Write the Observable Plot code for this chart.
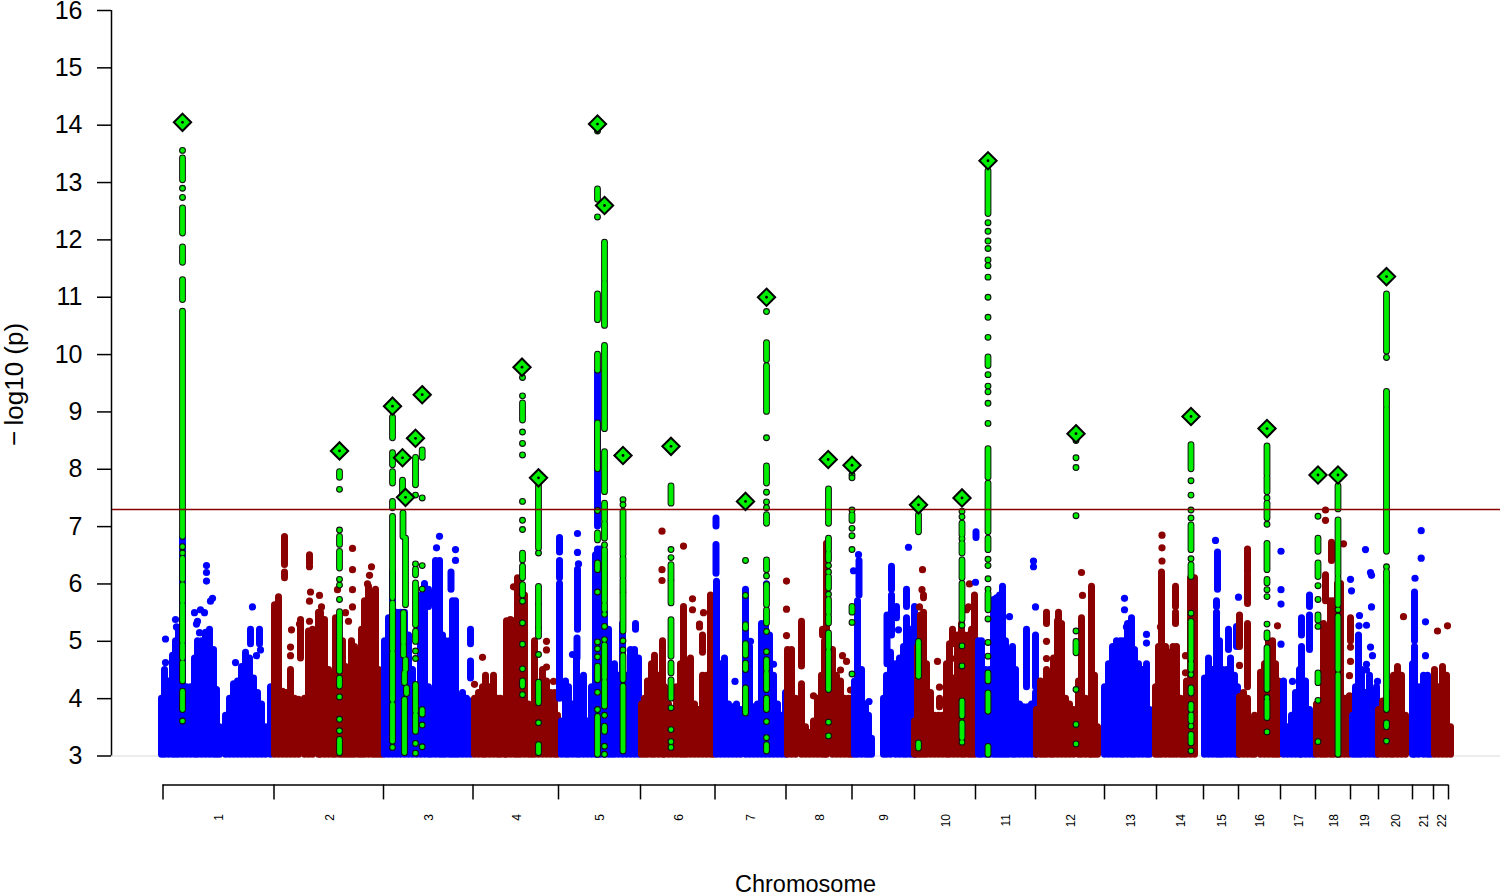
<!DOCTYPE html>
<html><head><meta charset="utf-8">
<style>html,body{margin:0;padding:0;background:#fff}svg{display:block}</style>
<script src="https://cdn.jsdelivr.net/npm/d3@7"></script>
<script src="https://cdn.jsdelivr.net/npm/@observablehq/plot@0.6"></script>
</head><body><div id="chart"></div>
<script>
const yTicks=[3,4,5,6,7,8,9,10,11,12,13,14,15,16];
const chrLabels=["1","2","3","4","5","6","7","8","9","10","11","12","13","14","15","16","17","18","19","20","21","22"];
const chrBounds=[162.5,273.5,383,472.5,558,640,714.5,785.5,851.5,914,975,1035,1104,1156,1203,1238,1280,1315,1350,1378,1412,1433,1448];
const threshold=7.3;
const blue="#0000ff",dark="#8b0000",green="#00ee00";

// columns: [position, top, bottom (default 3)]; dots: [position, value]
const chr1Cols=[[161,4.0],[164,4.5],[168,4.3],[172,4.75],[175,5.0],[178,5.2],[182,6.8],[186,4.2],[190,4.2],[194,4.7],[197,5.0],[201,5.0],[205,5.15],[209,5.2],[213,4.85],[216,4.15],[219,3.5],[225,3.7],[229,4.0],[233,4.25],[237,4.3],[241,4.55],[245,4.8],[249,4.7],[253,4.35],[257,4.1],[261,3.9],[265,3.5],[270,4.2],[250,5.2,4.95],[259,5.2,4.95]];
const chr1Dots=[[165,5.04],[165,4.63],[175,5.38],[176,5.25],[206,6.32],[206,6.2],[206,6.05],[210,5.7],[212,5.75],[194,5.5],[200,5.55],[204,5.5],[196,5.3],[199,5.15],[197,5.35],[235,4.63],[252,5.6],[260,4.85],[256,4.75],[248,4.7]];
const chr2Cols=[[274,5.63],[278,5.77],[282,4.12],[286,4.1],[290,4.15],[290,4.5,4.2],[294,4.0],[298,3.98],[300,5.37,4.7],[304,4.0],[308,5.17],[312,5.2],[318,5.5],[320,5.5],[324,5.37],[328,4.5],[332,3.7],[335,5.4],[339,4.4],[342,5.0],[345,4.55],[348,4.4],[351,5.0],[354,4.9],[358,4.6],[361,5.2],[364,5.7],[368,5.95],[372,5.1],[375,5.9],[378,4.5],[381,4.4],[284,6.82,6.33],[284,6.2,6.1],[309,6.5,6.35]];
const chr2Dots=[[291,5.2],[290,4.9],[290,4.75],[299,5.3],[300,5.15],[309,6.3],[310,5.86],[309,5.7],[309,5.35],[319,5.8],[321,5.6],[337,5.9],[352,6.62],[352,6.25],[352,5.9],[352,5.6],[348,5.35],[345,5.5],[371,6.3],[369,6.15],[367,6.0]];
const chr3Cols=[[384,5.0],[388,5.4],[392,6.2],[396,5.5],[400,5.5],[404,5.5],[408,5.1],[412,4.5],[416,4.0],[420,5.8],[424,6.0],[428,4.2],[428,5.9,5.6],[431,4.1],[435,6.4],[439,6.4],[442,5.1],[445,5.0],[449,5.0],[452,5.7],[455,5.7],[450.5,6.2,5.9],[458,3.95],[462,4.1],[466,4.0],[470,3.95],[470,5.2,4.95],[470,4.65,4.35]];
const chr3Dots=[[439,6.83],[436,6.63],[455,6.6],[455,6.41]];
const chr4Cols=[[474,4.0],[478,4.1],[482,4.2],[485,4.4],[489,4.2],[493,4.4],[497,4.0],[500,4.0],[504,3.9],[506,5.35],[510,5.37],[514,5.35],[517,6.1],[520,6.0],[524,5.8],[528,3.9],[531,3.75],[534,5.0],[538,4.15],[542,4.5],[546,4.3],[550,4.1],[554,4.1],[557,3.7]];
const chr4Dots=[[474,4.25],[482,4.72],[513,5.95],[546,5.0],[546,4.85],[546,4.55],[553,4.3]];
const chr5Cols=[[559,6.8,6.55],[559,6.4,6.1],[559,6.0,4.0],[561,3.6],[565,4.3],[568,4.2],[572,3.9],[577,6.25,5.2],[576.5,5.05,4.7],[576,4.7],[579,4.3],[583,4.4],[587,3.6],[591,4.2],[595,6.5],[597,6.6],[597,9.7,7],[600,6.6],[604,5.5],[608,5.2],[611,4.4],[614,4.6],[618,4.4],[622,5.3],[626,4.4],[630,4.85],[634,4.85],[635,5.3,5.2],[638,4.7]];
const chr5Dots=[[577,6.88],[577,6.55],[578,6.35],[572,4.77]];
const chr6Cols=[[641,3.9],[644,4.0],[647,4.3],[651,4.6],[654,4.75],[658,4.4],[662,5.0],[664,4.2],[668,3.9],[672,3.8],[676,4.2],[680,4.6],[683,5.25],[683,5.6,4.95],[686,3.9],[690,4.7],[694,3.9],[698,3.8],[702,4.4],[702,5.1,4.8],[706,4.4],[710,5.8],[713,4.5]];
const chr6Dots=[[661.5,6.92],[661.5,6.25],[661.5,6.06],[683,6.66],[692,5.74],[692,5.55],[699,5.3],[699,5.25],[703,5.5]];
const chr7Cols=[[715.5,7.14,7.0],[715.5,6.68,6.18],[716,6.04],[720,4.6],[724,4.7],[728,3.9],[732,3.85],[736,3.9],[740,3.8],[745,5.9],[749,4.9],[753,3.85],[757,3.9],[761,5.3],[765,5.3],[769,5.1],[773,4.4],[777,3.9],[781,3.7],[785,4.1]];
const chr7Dots=[[734.5,4.3],[766,6.0],[750,5.0],[773,4.6]];
const chr8Cols=[[787,4.85],[791,4.85],[795,4.0],[801,4.25],[801,5.34,4.56],[805,3.5],[809,3.4],[813,3.6],[817,4.0],[821,4.4],[822,5.2,5.1],[824,5.0],[826,6.7],[832,4.85],[836,4.4],[840,4.3],[844,4.0],[848,4.0],[851,4.0]];
const chr8Dots=[[786,6.05],[786,5.56],[786,5.1],[813,4.05],[842,4.75],[846,4.65],[840,4.5],[850,4.15],[840,4.15]];
const chr9Cols=[[858.5,6.4,5.8],[857,5.7,4.2],[854,4.3],[857,5.0],[861,4.5],[865,3.9],[868,3.7],[871,3.3],[883,4.0],[886,4.4],[886.5,5.45,4.6],[890,4.8],[891,6.3,5.9],[891,5.8,5.1],[895,4.6],[896,5.6,5.4],[899,4.7],[903,4.9],[906,5.9,5.6],[906,5.4],[910,5.2],[914,5.6]];
const chr9Dots=[[858,6.51],[853,6.23],[868.5,3.95],[898,5.2],[908,6.64]];
const chr10Cols=[[914,3.6],[917,4.9],[920,5.45],[923,5.5],[923,5.8,5.75],[926,4.6],[930,4.1],[934,3.7],[939,4.0,3.85],[938,3.7],[942,3.7],[946,4.6],[949,4.95],[953,4.35],[952,5.2,4.95],[957,5.1],[961,5.3],[964,5.1],[968,5.1],[971,5.2],[974,5.8]];
const chr10Dots=[[922,6.25],[921.5,5.9],[919,5.6],[937,4.65],[939,4.2],[969,6.0],[968,5.6],[966,5.55],[951,4.7]];
const chr11Cols=[[975.5,6.9,6.8],[978,5.0],[981,5.0],[985,4.5],[989,4.5],[993,5.72],[996,5.75],[999,5.8],[1002,5.95],[1005,5.0],[1008,4.8],[1012,4.9],[1015,4.5],[1019,3.9],[1023,3.85],[1026,5.2,4.2],[1027,3.85],[1031,3.9],[1035,5.1,4.2],[1035,4.1]];
const chr11Dots=[[975,6.03],[1033,6.4],[1033,6.3],[1035,5.6],[1009,5.43]];
const chr12Cols=[[1036,3.8],[1040,4.3],[1043,4.0],[1046,4.5],[1046,5.5,5.3],[1050,3.9],[1053,4.7],[1057,5.35],[1058,5.5,5.35],[1061,5.3],[1065,4.0],[1069,3.9],[1073,3.8],[1078,4.3],[1081,5.4],[1085,4.0],[1089,3.9],[1091,5.95],[1094,4.4],[1097,3.5]];
const chr12Dots=[[1046,5.0],[1046,4.7],[1081,6.2],[1082,5.8],[1080,5.0]];
const chr13Cols=[[1104,4.2],[1108,4.6],[1112,4.9],[1116,5.0],[1120,5.0],[1123,5.0],[1127,5.3],[1131,5.4],[1134,4.85],[1138,4.6],[1142,4.5],[1146,4.6],[1149,3.8]];
const chr13Dots=[[1124,5.75],[1124,5.55],[1126,5.25],[1146,5.12],[1146,4.97]];
const chr14Cols=[[1155,4.2],[1158,4.9],[1161,6.2],[1165,4.9],[1169,4.8],[1172.5,4.9],[1175,5.95,5.6],[1175,5.5,5.3],[1176,4.9],[1180,4.0],[1183,3.9],[1186,4.3],[1190,6.1],[1194,6.1],[1193,5.9,5.4]];
const chr14Dots=[[1161.5,6.85],[1161.5,6.63],[1161.5,6.4],[1185,4.75],[1185,4.45],[1160,5.25]];
const chr15Cols=[[1204,4.35],[1208,4.7],[1212,4.5],[1216,5.5],[1219,5.0],[1217,6.55,5.9],[1216,5.7,5.6],[1222,4.5],[1226,4.5],[1228,5.2,4.85],[1230,4.7],[1234,4.4],[1236,5.25,4.9],[1237,4.2]];
const chr15Dots=[[1215,6.76],[1238,5.77]];
const chr16Cols=[[1239,4.03],[1239,5.45,4.9],[1243,4.1],[1247,4.0],[1247,6.6,6.2],[1247,6.15,5.65],[1247,5.3,4.2],[1251,3.5],[1254,3.7],[1260,4.45],[1264,4.6],[1268,5.0],[1272,5.0],[1275,4.6],[1278,4.3]];
const chr16Dots=[[1239,4.58],[1277,5.27]];
const chr17Cols=[[1283,4.3],[1287,3.5],[1291,3.7],[1295,4.1],[1299,4.5],[1301,5.4,5.1],[1301,4.9],[1305,4.3],[1309,5.8,5.6],[1309,5.45,4.85],[1309,3.8],[1313,3.4]];
const chr17Dots=[[1280.5,6.57],[1280.5,5.9],[1280.5,5.65],[1280.5,4.95],[1292,4.3]];
const chr18Cols=[[1316,3.9],[1320,3.9],[1323,5.3],[1325,6.15,5.7],[1326,5.1],[1330,5.7],[1331,6.72,6.4],[1333,5.7],[1337,6.0],[1340,6.0],[1344,4.0],[1348,4.0],[1350,5.4,5.0]];
const chr18Dots=[[1325,7.29],[1325,7.11],[1343,6.7],[1350,4.9],[1350,4.65],[1349,4.4],[1349,4.05]];
const chr19Cols=[[1352,3.7],[1355,4.2],[1358,5.1],[1361,4.5],[1365,4.1],[1369,4.4],[1373,4.1],[1376,4.2]];
const chr19Dots=[[1365,6.6],[1370,6.2],[1371,6.15],[1371,5.6],[1351,5.88],[1350,6.08],[1366,5.28],[1358.5,5.27],[1370,4.9],[1372,4.75],[1366,4.6],[1366,4.5],[1377,4.3],[1359,5.45]];
const chr20Cols=[[1378,3.8],[1382,3.95],[1386,3.9],[1390,4.1],[1393,4.4],[1397,4.55],[1401,4.4],[1405,3.7]];
const chr20Dots=[[1403,5.43]];
const chr21Cols=[[1412,4.6],[1414,5.85,5.0],[1414,4.9],[1418,4.2],[1423,4.4],[1427,4.4],[1430,4.3]];
const chr21Dots=[[1420.7,6.93],[1420.7,6.45],[1414.5,6.1],[1425,5.34],[1425,4.75]];
const chr22Cols=[[1434,4.5],[1438,4.2],[1442,4.55],[1446,4.4],[1450,3.5]];
const chr22Dots=[[1437,5.18],[1447,5.27]];

const chrCols=[chr1Cols,chr2Cols,chr3Cols,chr4Cols,chr5Cols,chr6Cols,chr7Cols,chr8Cols,chr9Cols,chr10Cols,chr11Cols,chr12Cols,chr13Cols,chr14Cols,chr15Cols,chr16Cols,chr17Cols,chr18Cols,chr19Cols,chr20Cols,chr21Cols,chr22Cols];
const chrDots=[chr1Dots,chr2Dots,chr3Dots,chr4Dots,chr5Dots,chr6Dots,chr7Dots,chr8Dots,chr9Dots,chr10Dots,chr11Dots,chr12Dots,chr13Dots,chr14Dots,chr15Dots,chr16Dots,chr17Dots,chr18Dots,chr19Dots,chr20Dots,chr21Dots,chr22Dots];

// highlighted loci: stretches of touching green points [position, top, bottom]
const greenSegs=[
[182,13.42,13.04],[182,12.55,12.11],[182,11.87,11.6],[182,11.3,10.95],[182,10.75,6.82],[182,6.44,6.07],[182,5.98,5.69],[182,5.63,4.99],[182,4.93,4.7],[182,4.62,4.3],[182,4.12,3.8],
[339,7.95,7.85],[339,6.82,6.68],[339,6.56,6.27],[339,5.51,5.34],[339,5.31,4.47],[339,4.35,4.21],[339,3.28,3.05],
[392,8.9,8.54],[392,8.28,8.07],[392,7.95,7.75],[392,7.43,7.32],[392,7.17,5.75],[392,5.66,4.85],[392,4.79,3.97],[392,3.89,3.45],[392,3.42,3.25],
[402,7.8,7.55],[402.5,7.23,6.82],[405,6.79,5.63],[403,5.49,4.96],[403,4.91,4.75],[405,4.67,4.5],[404,4.44,4.27],[406,4.18,4.08],[404,3.98,3.05],
[415,8.2,7.72],[415,6.25,6.15],[415,6.01,5.28],[415,5.17,4.99],[415,4.24,3.77],[415,3.71,3.42],[421.7,8.33,8.2],[421.7,3.8,3.72],
[522,9.15,8.85],[522,6.53,6.41],[522,6.3,6.1],[522,5.98,5.8],[522,4.3,4.21],
[538,7.7,6.62],[538,5.95,5.66],[538,5.63,5.25],[538,5.22,5.08],[538,4.28,3.92],[538,3.19,3.05],
[597,11.05,10.6],[597,10,9.72],[597,8.8,8.0],[597,12.88,12.7],[597,6.88,6.76],[597,6.36,6.24],[597,4.56,4.32],[597,3.68,3.02],
[604,11.95,11.3],[604,11.25,10.5],[604,10.15,8.7],[604,8.3,7.6],[604,7.4,7.11],[604,7.05,6.79],[604,6.59,5.69],[604,5.63,5.54],[604,4.93,4.35],[604,4.29,3.86],[604,3.51,3.42],
[622.5,7.26,6.5],[622.5,6.44,6.12],[622.5,6.07,5.86],[622.5,5.83,5.17],[622.5,4.74,4.32],[622.5,4.21,3.08],
[670.5,7.7,7.4],[670.5,6.33,6.07],[670.5,6.04,5.66],[670.5,5.37,4.73],[670.5,4.61,4.44],[670.5,4.32,4.0],
[745,5.28,5.22],[745,4.95,4.75],[745,4.61,4.5],[745,4.18,3.74],
[766,10.2,9.9],[766,9.8,9.0],[766,8.05,7.75],[766,7.2,7.05],[766,6.41,6.24],[766,5.98,5.63],[766,5.54,5.31],[766,4.67,4.5],[766,4.44,4.15],[766,4.0,3.8],[766,3.19,3.08],
[828,7.65,7.05],[828,6.79,6.59],[828,6.53,6.41],[828,6.12,5.92],[828,5.72,5.49],[828,5.43,5.31],[828,5.14,4.88],[828,4.82,4.15],
[851.5,7.2,7.1],[851.5,5.6,5.5],
[918,7.2,6.9],[918,4.99,4.38],[918,3.22,3.13],
[961.5,7.05,6.85],[961.5,6.7,6.53],[961.5,6.41,6.1],[961.5,6.0,5.37],[961.5,3.95,3.69],[961.5,3.57,3.31],
[987.5,13.2,12.45],[987.5,9.95,9.8],[987.5,8.35,7.85],[987.5,7.75,6.9],[987.5,6.79,6.59],[987.5,5.83,5.54],[987.5,4.44,4.3],[987.5,4.09,3.77],[987.5,3.16,3.02],
[1075.5,4.99,4.79],
[1190.5,8.42,8.0],[1190.5,7.02,6.59],[1190.5,6.33,6.12],[1190.5,5.34,4.67],[1190.5,4.61,4.5],[1190.5,4.18,4.09],[1190.5,3.89,3.8],[1190.5,3.71,3.6],[1190.5,3.37,3.22],
[1266.5,8.4,7.9],[1266.5,7.85,7.6],[1266.5,7.4,7.14],[1266.5,6.7,6.24],[1266.5,6.07,6.01],[1266.5,5.14,5.05],[1266.5,4.88,4.15],[1266.5,3.95,3.66],
[1317.5,6.79,6.56],[1317.5,6.36,6.12],[1317.5,5.45,5.36],[1317.5,4.44,4.27],
[1337.5,7.7,7.3],[1337.5,7.11,6.15],[1337.5,6.1,5.63],[1337.5,5.43,4.5],[1337.5,4.41,3.02],
[1386,11.05,10.05],[1386,9.35,9.1],[1386,9.05,6.56],[1386,6.21,6.04],[1386,6.01,3.8],[1386,3.57,3.5]];
const greenDots=[
[182,13.56],[182,12.9],[182,12.74],[182,6.65],[182,6.54],[182,3.61],
[339,7.65],[339,6.94],[339,6.08],[339,5.98],[339,5.73],[339,4.03],[339,3.64],[339,3.44],
[392,3.15],[415,7.55],[421.7,7.5],[415,6.35],[415,4.83],[415,4.7],[415,3.22],[415,3.05],[421.7,6.32],[421.7,5.91],[421.7,3.54],[421.7,3.16],
[522,9.6],[522,9.28],[522,8.65],[522,8.45],[522,8.25],[522,7.44],[522,7.11],[522,6.95],[522,5.7],[522,5.32],[522,4.95],[522,4.52],[522,4.07],
[538,6.54],[538,4.77],[538,3.58],
[597,13.9],[597,12.4],[597,7.28],[597,5.86],[597,4.99],[597,4.87],[597,4.73],[597,4.11],[597,3.81],
[604,6.68],[604,5.47],[604,5.26],[604,5.03],[604,3.71],[604,3.17],[604,3.03],
[622.5,7.47],[622.5,7.38],[622.5,5.01],[622.5,4.85],
[670.5,6.6],[670.5,6.46],[670.5,3.84],[670.5,3.46],[670.5,3.25],[670.5,3.15],
[745,6.41],[745,5.8],
[766,10.75],[766,8.55],[766,7.6],[766,7.43],[766,7.33],[766,6.14],[766,5.17],[766,4.82],[766,3.6],[766,3.32],
[828,6.32],[828,6.21],[828,5.82],[828,3.59],[828,3.35],
[851.5,7.9],[851.5,7.85],[851.5,7.29],[851.5,6.97],[851.5,6.84],[851.5,6.6],[851.5,5.33],[851.5,4.43],
[961.5,7.27],[961.5,7.17],[961.5,6.79],[961.5,5.28],[961.5,4.92],[961.5,4.57],[961.5,3.24],
[987.5,12.3],[987.5,12.15],[987.5,11.98],[987.5,11.85],[987.5,11.65],[987.5,11.55],[987.5,11.35],[987.5,11.0],[987.5,10.65],[987.5,10.3],[987.5,9.65],[987.5,9.45],[987.5,9.35],[987.5,9.15],[987.5,8.8],[987.5,6.43],[987.5,6.32],[987.5,6.09],[987.5,5.91],[987.5,5.39],[987.5,4.98],[987.5,4.74],
[1075.5,8.5],[1075.5,8.2],[1075.5,8.03],[1075.5,7.19],[1075.5,5.18],[1075.5,4.16],[1075.5,3.55],[1075.5,3.21],
[1190.5,7.8],[1190.5,7.55],[1190.5,7.29],[1190.5,7.15],[1190.5,6.44],[1190.5,5.49],[1190.5,4.42],[1190.5,3.52],[1190.5,3.09],
[1266.5,7.5],[1266.5,7.04],[1266.5,5.9],[1266.5,5.78],[1266.5,5.3],[1266.5,4.02],[1266.5,3.42],
[1317.5,7.18],[1317.5,5.97],[1317.5,5.73],[1317.5,5.26],[1317.5,3.97],[1317.5,3.25],
[1337.5,5.55],
[1386,9.95],[1386,6.3],[1386,3.26]];
const sentinels=[[182,14.05],[339,8.32],[392,9.1],[402,8.2],[405,7.51],[415,8.54],[421.7,9.3],[521.5,9.78],[538,7.85],[597,14.02],[604,12.6],[622.5,8.24],[670.5,8.4],[745,7.44],[766,11],[827.7,8.17],[851.5,8.07],[918,7.38],[961.5,7.5],[987.5,13.38],[1075.5,8.62],[1190.5,8.92],[1266.5,8.71],[1317.5,7.9],[1337.5,7.9],[1386,11.36]];

const px=d=>d[0];
const font="'Liberation Sans',Arial,sans-serif";
const chrMid=chrLabels.map((_,i)=>(chrBounds[i]+chrBounds[i+1])/2+1);
const marks=[
  Plot.ruleY([3],{x1:111,x2:1500,stroke:"#d9d9d9",strokeWidth:1})
];
chrCols.forEach((cols,i)=>{
  const c=i%2?dark:blue;
  marks.push(Plot.ruleX(cols,{x:px,y1:d=>d[2]??3.02,y2:d=>d[1],stroke:c,strokeWidth:7,strokeLinecap:"round"}));
  marks.push(Plot.dot(chrDots[i],{x:px,y:d=>d[1],r:3.6,fill:c,stroke:"none"}));
});
marks.push(
  Plot.ruleX(greenSegs,{x:px,y1:d=>d[2],y2:d=>d[1],stroke:"#111",strokeWidth:6.8,strokeLinecap:"round"}),
  Plot.dot(greenDots,{x:px,y:d=>d[1],r:2.9,fill:green,stroke:"#111",strokeWidth:1.1}),
  Plot.ruleX(greenSegs,{x:px,y1:d=>d[2],y2:d=>d[1],stroke:green,strokeWidth:4.8,strokeLinecap:"round"}),
  Plot.ruleY([threshold],{x1:111,x2:1500,stroke:dark,strokeWidth:1.5}),
  Plot.dot(sentinels,{x:px,y:d=>d[1],symbol:"diamond2",r:7.8,fill:green,stroke:"#000",strokeWidth:2}),
  Plot.dot(sentinels,{x:px,y:d=>d[1],r:1.4,fill:"#000"}),
  Plot.ruleX([111],{y1:3,y2:16,stroke:"#000",strokeWidth:1.5}),
  Plot.axisY({ticks:yTicks,tickSize:14,tickPadding:15,fontSize:25,stroke:"#000",strokeWidth:1.5,label:null}),
  Plot.ruleY([3],{x1:chrBounds[0],x2:chrBounds[chrBounds.length-1],dy:29,stroke:"#000",strokeWidth:1.5}),
  Plot.ruleX(chrBounds,{x:d=>d,y1:()=>3,y2:()=>2.74,dy:29,stroke:"#000",strokeWidth:1.5}),
  Plot.text(chrLabels,{x:(d,i)=>chrMid[i],frameAnchor:"bottom",dy:58,rotate:-90,textAnchor:"end",lineAnchor:"middle",fontSize:12,fill:"#000"}),
  Plot.text(["Chromosome"],{x:()=>805,frameAnchor:"bottom",dy:128,textAnchor:"middle",lineAnchor:"middle",fontSize:23.5,fill:"#000"}),
  Plot.text(["\u2212\u2009log10 (p)"],{x:()=>14,y:()=>9.48,rotate:-90,textAnchor:"middle",lineAnchor:"middle",fontSize:26,fill:"#000"})
);
const chart=Plot.plot({
  width:1500,height:894,marginLeft:111,marginRight:0,marginTop:10,marginBottom:138.5,
  x:{domain:[111,1500],axis:null},
  y:{domain:[3,16],axis:null},
  style:{background:"#fff",overflow:"visible",fontFamily:font,color:"#000"},
  marks
});
document.getElementById("chart").appendChild(chart);
</script></body></html>
